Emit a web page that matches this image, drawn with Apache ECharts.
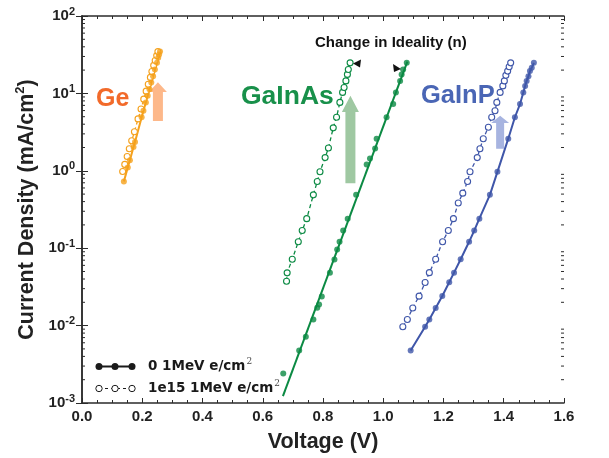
<!DOCTYPE html>
<html><head><meta charset="utf-8">
<script src="https://cdn.jsdelivr.net/npm/echarts@6/dist/echarts.min.js"></script>
</head>
<body style="margin:0;background:#fff">
<div id="c" style="width:609px;height:458px"></div>
<script>
// ---- data (Voltage in V, current density in mA/cm^2) ----
const geSolidV = [0.139,0.152,0.159,0.171,0.176,0.198,0.204,0.212,0.218,0.224,0.230,0.236,0.242,0.249,0.253,0.256,0.259];
const geSolidJ = [0.73,1.10,1.37,2.03,2.36,4.92,5.97,7.65,9.3,11.3,13.8,16.7,20.4,24.8,28.8,31.7,34.9];
const geOpenV = [0.135,0.142,0.150,0.157,0.165,0.174,0.186,0.196,0.205,0.213,0.220,0.227,0.232,0.238,0.243,0.248,0.252];
const geOpenJ = [0.98,1.21,1.53,1.93,2.45,3.19,4.68,6.28,8.43,10.7,13.1,16.1,19.2,23.0,26.6,30.8,34.7];

const inasSolidV = [0.668,0.721,0.743,0.768,0.781,0.787,0.796,0.823,0.838,0.847,0.855,0.867,0.882,0.910,0.945,0.956,0.973,0.978,1.011,1.033,1.042,1.056,1.061,1.066,1.078];
const inasSolidJ = [0.0024,0.00476,0.0072,0.0120,0.0170,0.0188,0.0238,0.0483,0.0715,0.096,0.121,0.169,0.241,0.489,1.21,1.44,1.94,2.60,4.92,7.28,10.3,14.5,17.6,20.4,24.8];
const inasFitV = [0.667,1.080];
const inasFitJ = [0.00123,25.8];
const inasOpenV = [0.679,0.681,0.698,0.718,0.731,0.746,0.768,0.781,0.790,0.807,0.818,0.834,0.845,0.856,0.865,0.870,0.876,0.881,0.884,0.890];
const inasOpenJ = [0.0374,0.048,0.072,0.121,0.169,0.241,0.489,0.726,0.97,1.48,1.97,3.59,4.92,7.65,10.3,11.9,14.5,17.6,20.4,24.8];

const inpSolidV = [1.091,1.139,1.153,1.174,1.196,1.219,1.235,1.257,1.285,1.302,1.319,1.354,1.379,1.415,1.437,1.454,1.465,1.471,1.476,1.482,1.487,1.493,1.500];
const inpSolidJ = [0.00476,0.00966,0.0120,0.0169,0.0241,0.0363,0.0483,0.0721,0.121,0.169,0.241,0.489,0.97,2.60,4.92,7.28,10.3,12.5,14.5,16.7,19.4,21.4,24.8];
const inpOpenV = [1.065,1.080,1.098,1.119,1.139,1.153,1.174,1.197,1.216,1.233,1.249,1.264,1.280,1.288,1.312,1.321,1.332,1.349,1.360,1.371,1.377,1.388,1.397,1.402,1.407,1.413,1.418,1.423];
const inpOpenJ = [0.00966,0.0120,0.0169,0.0240,0.036,0.0483,0.0721,0.121,0.169,0.241,0.383,0.514,0.726,0.97,1.48,1.93,2.60,3.66,4.92,5.98,7.65,10.3,12.5,14.5,17.1,19.4,22.1,24.8];

const xTicks = [0.0,0.2,0.4,0.6,0.8,1.0,1.2,1.4,1.6];
const yTickExps = [-3,-2,-1,0,1,2];

// annotation arrows: [V, J bottom, J head base, J tip]
const arrowGe   = [0.252, 4.4, 10.4, 13.9];
const arrowInAs = [0.891, 0.69, 5.75, 9.3];
const arrowInP  = [1.388, 1.93, 4.16, 5.15];

const zip = (a,b)=>a.map((v,i)=>[v,b[i]]);

const C_GE = '#F5A11C', C_AS = '#0B8A43', C_P = '#3F56A9';
const minorVals = [];
for (let e=-3;e<2;e++) for (let k=2;k<=9;k++) minorVals.push(k*Math.pow(10,e));

const chart = echarts.init(document.getElementById('c'));
const axisLine = {lineStyle:{color:'#2b2b2b', width:1.5}};
function solid(name,data,color){
  return {type:'scatter', name, data, symbol:'circle', symbolSize:6, itemStyle:{color}, z:4};
}
function open(name,data,color){
  return {type:'line', name, data, symbol:'circle', symbolSize:6, showSymbol:true,
    lineStyle:{color, width:1.3, type:[4,3]}, itemStyle:{color:'#fff', borderColor:color, borderWidth:1.1}, z:3};
}
function fit(data,color,dashed){
  return {type:'line', data, symbol:'none', lineStyle:{color, width:2, type: dashed?'dashed':'solid'}, z:2, silent:true};
}
chart.setOption({
  animation:false,
  grid:{left:82, right:45, top:16, bottom:51},
  xAxis:[{type:'value', min:0, max:1.6, interval:0.2,
    name:'Voltage (V)', nameLocation:'middle', nameGap:28,
    nameTextStyle:{fontFamily:'Liberation Sans', fontWeight:'bold', fontSize:21.5, color:'#222'},
    axisLine, axisTick:{inside:true, length:5, lineStyle:{color:'#2b2b2b'}},
    minorTick:{show:true, splitNumber:4, length:3, lineStyle:{color:'#2b2b2b'}},
    axisLabel:{fontFamily:'Liberation Sans', fontWeight:'bold', fontSize:15, color:'#222', margin:6,
      formatter:v=>v.toFixed(1)},
    splitLine:{show:false}},
   {type:'value', position:'top', min:0, max:1.6, interval:0.2, axisLine,
    axisTick:{inside:true, length:5, lineStyle:{color:'#2b2b2b'}},
    minorTick:{show:true, splitNumber:4, length:3, lineStyle:{color:'#2b2b2b'}},
    axisLabel:{show:false}, splitLine:{show:false}}],
  yAxis:[{type:'log', logBase:10, min:0.001, max:100,
    name:'Current Density (mA/cm{s|2})', nameLocation:'middle', nameGap:42, nameRotate:90,
    nameTextStyle:{fontFamily:'Liberation Sans', fontWeight:'bold', fontSize:21.5, color:'#222',
      rich:{s:{fontFamily:'Liberation Sans', fontSize:13, color:'#222', padding:[0,0,12,0]}}},
    axisLine, axisTick:{inside:true, length:6, lineStyle:{color:'#2b2b2b'}},
    axisLabel:{color:'#222', margin:7,
      formatter:v=>{const e=Math.round(Math.log10(v)); return '{b|10}{s|'+e+'}';},
      rich:{b:{fontFamily:'Liberation Sans', fontWeight:'bold', fontSize:15, color:'#222'},
            s:{fontFamily:'Liberation Sans', fontWeight:'bold', fontSize:11, color:'#222', padding:[0,0,9,0]}}},
    splitLine:{show:false}},
   {type:'log', logBase:10, min:0.001, max:100, position:'right', axisLine,
    axisTick:{inside:true, length:6, lineStyle:{color:'#2b2b2b'}},
    axisLabel:{show:false}, splitLine:{show:false}}],
  series:[
    {type:'custom', silent:true, z:1, data:minorVals.map(v=>[0,v]),
     renderItem:(params, api)=>{
       const p = api.coord([0, api.value(1)]);
       const cs = params.coordSys;
       return {type:'group', children:[
         {type:'line', shape:{x1:cs.x, y1:p[1], x2:cs.x+3, y2:p[1]}, style:{stroke:'#2b2b2b', lineWidth:1}},
         {type:'line', shape:{x1:cs.x+cs.width-3, y1:p[1], x2:cs.x+cs.width, y2:p[1]}, style:{stroke:'#2b2b2b', lineWidth:1}}
       ]};
     }},
    {type:'line', data:zip(geSolidV,geSolidJ), symbol:'none', lineStyle:{color:C_GE, width:2}, z:2},
    solid('Ge 0', zip(geSolidV,geSolidJ), C_GE),
    open('Ge 1e15', zip(geOpenV,geOpenJ), C_GE),
    fit(zip(inasFitV,inasFitJ), C_AS, false),
    solid('GaInAs 0', zip(inasSolidV,inasSolidJ), C_AS),
    open('GaInAs 1e15', zip(inasOpenV,inasOpenJ), C_AS),
    {type:'line', data:zip(inpSolidV,inpSolidJ), symbol:'none', lineStyle:{color:C_P, width:2}, z:2},
    solid('GaInP 0', zip(inpSolidV,inpSolidJ), C_P),
    open('GaInP 1e15', zip(inpOpenV,inpOpenJ), C_P)
  ]
});

function arrow(a, color, shaftW, headW){
  const b = chart.convertToPixel({gridIndex:0}, [a[0], a[1]]);
  const h = chart.convertToPixel({gridIndex:0}, [a[0], a[2]]);
  const t = chart.convertToPixel({gridIndex:0}, [a[0], a[3]]);
  const x = b[0];
  return {type:'polygon', z:1, silent:true, shape:{points:[
    [x-shaftW/2,b[1]],[x-shaftW/2,h[1]],[x-headW/2,h[1]],[x,t[1]],[x+headW/2,h[1]],[x+shaftW/2,h[1]],[x+shaftW/2,b[1]]]},
    style:{fill:color}};
}
const legRich = {
  a:{fontFamily:'DejaVu Sans', fontWeight:'bold', fontSize:13.5, fill:'#1a1a1a'},
  s:{fontFamily:'DejaVu Serif', fontSize:9, fill:'#444', padding:[0,0,9,1]}
};
chart.setOption({graphic:[
  arrow(arrowGe, '#FDB88A', 10, 18),
  arrow(arrowInAs, '#9FC8A2', 10, 17),
  arrow(arrowInP, '#A7B4E0', 8, 18),
  {type:'text', left:96, top:87, z:10, style:{text:'Ge', fontFamily:'Liberation Sans', fontWeight:'bold', fontSize:25, fill:'#F26A2A'}},
  {type:'text', left:241, top:83, z:10, style:{text:'GaInAs', fontFamily:'Liberation Sans', fontWeight:'bold', fontSize:26.5, fill:'#18904A'}},
  {type:'text', left:421, top:83, z:10, style:{text:'GaInP', fontFamily:'Liberation Sans', fontWeight:'bold', fontSize:25.5, fill:'#4A66B5'}},
  {type:'text', left:315, top:35, z:10, style:{text:'Change in Ideality (n)', fontFamily:'Liberation Sans', fontWeight:'bold', fontSize:15, fill:'#111'}},
  {type:'polygon', z:10, shape:{points:[[353,63.5],[361,59.5],[360,67.5]]}, style:{fill:'#111'}},
  {type:'polygon', z:10, shape:{points:[[401,69],[393,64],[394,72]]}, style:{fill:'#111'}},
  // legend
  {type:'line', shape:{x1:99,y1:366.5,x2:132,y2:366.5}, style:{stroke:'#1a1a1a', lineWidth:2}},
  {type:'circle', shape:{cx:99,cy:366.5,r:3.5}, style:{fill:'#1a1a1a'}},
  {type:'circle', shape:{cx:115,cy:366.5,r:3.5}, style:{fill:'#1a1a1a'}},
  {type:'circle', shape:{cx:132,cy:366.5,r:3.5}, style:{fill:'#1a1a1a'}},
  {type:'text', left:148, top:357, style:{text:'{a|0 1MeV e/cm}{s|2}', rich:legRich}},
  {type:'line', shape:{x1:99,y1:388.5,x2:132,y2:388.5}, style:{stroke:'#1a1a1a', lineWidth:1.2, lineDash:[3,3]}},
  {type:'circle', shape:{cx:99,cy:388.5,r:3.2}, style:{fill:'#fff', stroke:'#1a1a1a', lineWidth:1}},
  {type:'circle', shape:{cx:115,cy:388.5,r:3.2}, style:{fill:'#fff', stroke:'#1a1a1a', lineWidth:1}},
  {type:'circle', shape:{cx:132,cy:388.5,r:3.2}, style:{fill:'#fff', stroke:'#1a1a1a', lineWidth:1}},
  {type:'text', left:148, top:379, style:{text:'{a|1e15 1MeV e/cm}{s|2}', rich:legRich}}
]});
</script>
</body></html>
